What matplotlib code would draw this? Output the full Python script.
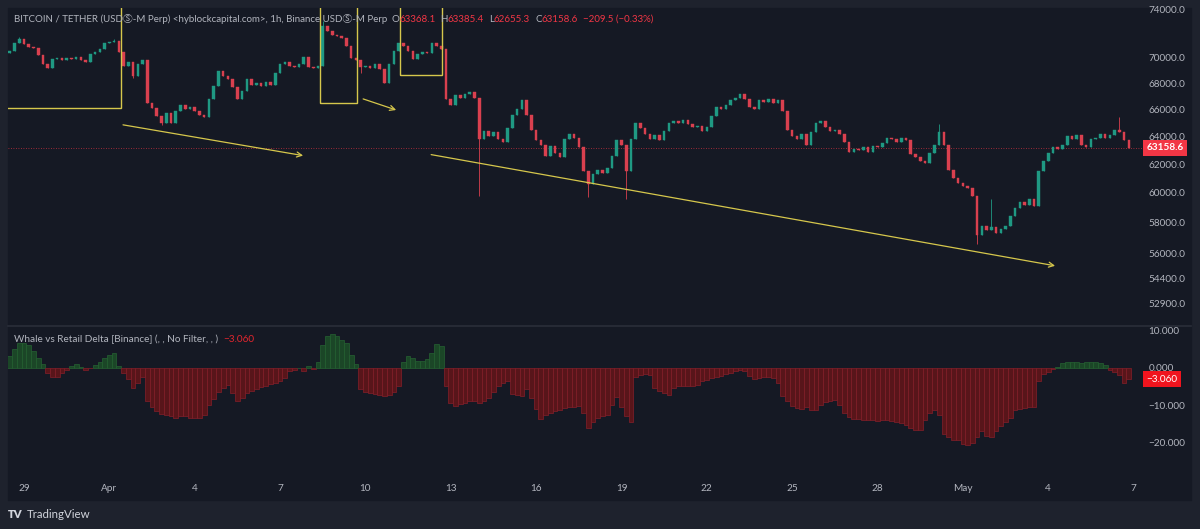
import datetime as dt
import matplotlib
matplotlib.use("Agg")
import matplotlib.pyplot as plt
import matplotlib.dates as mdates
import matplotlib.transforms as mtrans
from matplotlib.patches import Rectangle
from matplotlib.lines import Line2D
from matplotlib.ticker import NullLocator

plt.rcParams['font.family'] = ['Lato', 'DejaVu Sans', 'Noto Sans CJK JP']

W, H = 1200, 529

# 4h candles starting 28 Mar 12:00
start = dt.datetime(2024, 3, 28, 12)
step = dt.timedelta(hours=4)

closes = [
    70600, 71200, 71500, 71100, 70900, 70800, 70200, 69500, 69200, 69900,
    70000, 69800, 70000, 69900, 70100, 69800, 69700, 70300, 70500, 70700,
    71200, 71300, 71400, 70500, 69400, 69700, 68600, 69500, 69800, 66500,
    66100, 65500, 65000, 65700, 65000, 65900, 66300, 66000, 66200, 65900,
    65600, 65400, 66800, 67800, 69000, 68600, 68300, 67700, 66800, 67400,
    68300, 67900, 68000, 67800, 68100, 67900, 68800, 69500, 69700, 69400,
    69300, 69500, 70100, 69300, 69200, 69400, 72600, 72200, 71900, 71800,
    71600, 71000, 70000, 69800, 69300, 69400, 69200, 69500, 69100, 68000,
    69500, 70600, 71200, 71000, 70600, 69900, 70300, 70500, 70400, 71200,
    71000, 70700, 66800, 66300, 67100, 66900, 67200, 67300, 66900, 63800,
    64400, 64000, 64300, 63800, 63600, 64600, 65600, 66000, 66700, 65600,
    64500, 63700, 63400, 62600, 63300, 62800, 62500, 63800, 64200, 63900,
    63200, 61500, 60600, 61300, 61600, 61400, 61700, 62600, 63700, 63400,
    61500, 63800, 65000, 64600, 64200, 63800, 64100, 63700, 64400, 65000,
    65100, 65000, 65200, 64900, 64700, 64800, 64400, 64700, 65500, 66200,
    66000, 66300, 66700, 66900, 67200, 66800, 66200, 66000, 66700, 66600,
    66800, 66500, 66700, 65900, 64500, 64000, 63800, 64200, 63400, 64300,
    65000, 65100, 64700, 64400, 64500, 64200, 63600, 62900, 63100, 63000,
    63200, 62900, 63300, 63200, 63500, 63900, 63800, 63600, 63900, 63700,
    62700, 62500, 62200, 62100, 62800, 63400, 64300, 63400, 61600, 61000,
    60700, 60500, 60300, 59800, 57200, 57800, 57500, 57700, 57300, 57600,
    57800, 58400, 59000, 59400, 59200, 59600, 59100, 61500, 62200, 62800,
    63200, 63100, 63400, 64000, 63800, 64100, 63400, 63200, 63800, 63900,
    64200, 63900, 64100, 64500, 64300, 63700, 63158.6,
]
first_open = 70400

# long wicks that stick out of the bodies
spike_idx = [2, 22, 26, 32, 66, 74, 99, 122, 130, 196, 204, 207, 234]
spike_low = [None, None, 68400, 64850, None, 68800, 59800, 59700, 59580, None, 56600, None, None]
spike_high = [71700, 71500, None, None, 73000, None, None, None, None, 64900, None, 59600, 65450]

delta = [
    3, 5, 6.5, 6.7, 6, 4.5, 2.5, 1, -1.5, -2.6,
    -2.4, -1.5, -0.6, 0.4, 1, 0.3, -0.5, -0.2, 0.6, 1.5,
    2.5, 3.4, 4, 0.5, -1.3, -3, -5.3, -4, -2.5, -9,
    -10.5, -11.5, -12.3, -12.5, -13, -13.3, -12.8, -13, -13.3, -13.5,
    -13.3, -12.5, -10, -8.4, -6.5, -5.5, -4.6, -6.7, -8.9, -8,
    -6.7, -6.2, -5.8, -5.2, -4.8, -4.4, -4, -3.5, -2.8, -1,
    -0.5, 0, -1, 0.5, -0.3, 1.5, 6, 8.4, 8.9, 8.5,
    7.5, 6.7, 3.5, 1, -5.8, -6.5, -6.8, -7, -7.2, -7.6,
    -7.4, -6.5, -4.9, 1.5, 3.1, 2.5, 1.8, 1.9, 2.2, 4,
    6.2, 5.8, -5, -9.3, -10.2, -9.8, -9.5, -8.8, -9, -9.3,
    -8.8, -8, -6.5, -4.9, -4.2, -3.6, -7.1, -7.4, -7.6, -5.8,
    -8, -11, -13.8, -12.5, -12, -11.6, -11.2, -10.8, -10.5, -10.4,
    -10.2, -12, -16, -14.5, -13.5, -13, -12.5, -10, -7.8, -10.5,
    -13, -14.5, -2.5, -2, -1.8, -2, -5.5, -6.3, -6.8, -7.2,
    -5.5, -5, -4.8, -5, -4.8, -4.6, -3.5, -3.2, -2.8, -2.5,
    -2.2, -1.8, -1.5, -0.9, -0.6, -0.8, -2.2, -3, -2.8, -2.6,
    -2.5, -2.8, -4, -7.5, -9, -10.2, -10.8, -10.9, -10.6, -11.2,
    -11.3, -10, -9.2, -8.8, -8.7, -10, -12, -13.2, -13.6, -13.8,
    -14, -13.9, -14, -14.1, -13.9, -14, -14.2, -14.4, -14.8, -15.4,
    -16, -16.5, -16.7, -14, -12.2, -11.3, -12.5, -17.6, -18.5, -19.2,
    -19.4, -20.3, -20.7, -20, -18.5, -17, -18.2, -18.5, -17, -15.5,
    -14.5, -13.5, -11.3, -11, -10.8, -10.6, -10.4, -3.5, -1.8, -1.2,
    -0.4, 0.3, 1.3, 1.5, 1.4, 1.6, 1.3, 1.5, 1.4, 1.5,
    1.2, 0.8, -0.6, -1.2, -2, -4, -3.06,
]

price_ticks = [52900, 54400, 56000, 58000, 60000, 62000, 64000, 66000, 68000, 70000, 74000]
delta_ticks = [10, 0, -10, -20]
date_ticks = [dt.datetime(2024, 3, 29) + dt.timedelta(days=3 * k) for k in range(14)]
date_labels = ['29', 'Apr', '4', '7', '10', '13', '16', '19', '22', '25', '28', 'May', '4', '7']

BG = '#151924'
FRAME = '#1e222d'
TXT = '#b2b5be'
UP = '#1f9983'
DOWN = '#d9404f'
YEL = '#d6c74c'


def frac(x0, y0, x1, y1):
    return [x0 / W, 1 - y1 / H, (x1 - x0) / W, (y1 - y0) / H]


times = [start + k * step for k in range(len(closes))]
xs = mdates.date2num(times)
opens = [first_open] + closes[:-1]
lows = [min(o, c) for o, c in zip(opens, closes)]
highs = [max(o, c) for o, c in zip(opens, closes)]
for k, lo, hi in zip(spike_idx, spike_low, spike_high):
    if lo is not None:
        lows[k] = lo
    if hi is not None:
        highs[k] = hi

d0 = mdates.date2num(dt.datetime(2024, 3, 29))
xlim = (d0 - 0.5624, d0 + 39.33)

fig = plt.figure(figsize=(W / 100, H / 100), dpi=100, facecolor=FRAME)
fig.patches.append(Rectangle((8 / W, 1 - 500 / H), 1183 / W, 492 / H,
                             transform=fig.transFigure, color=BG, zorder=-10))

# ---- price pane
ax = fig.add_axes(frac(8, 8, 1143, 325))
ax.set_facecolor(BG)
ax.set_yscale('log')
ax.set_xlim(*xlim)
ax.set_ylim(51588, 74116)

cols = [UP if c >= o else DOWN for o, c in zip(opens, closes)]
ax.vlines(xs, lows, highs, colors=cols, lw=0.6, zorder=3)
bottoms = [min(o, c) for o, c in zip(opens, closes)]
heights = [max(abs(c - o), 25) for o, c in zip(opens, closes)]
ax.bar(xs, heights, bottom=bottoms, width=0.09, color=cols, edgecolor=cols, lw=0.3, zorder=4)

last = closes[-1]
ax.axhline(last, color='#f23645', lw=0.6, ls=(0, (1, 2)), alpha=0.8, zorder=2)

ax.set_yticks(price_ticks)
ax.set_yticklabels([f'{v:.1f}' for v in price_ticks])
ax.yaxis.set_minor_locator(NullLocator())
ax.yaxis.tick_right()
ax.tick_params(axis='y', length=0, pad=4, labelsize=7.2, labelcolor=TXT)
ax.set_xticks([])
for s in ax.spines.values():
    s.set_visible(False)

trans = mtrans.blended_transform_factory(ax.transAxes, ax.transData)
ax.text(1.003, last, f'{last:.1f}', transform=trans, ha='left', va='center',
        color='white', fontsize=7.2, fontweight='bold', clip_on=False, zorder=10,
        bbox=dict(boxstyle='square,pad=0.35', fc='#f23645', ec='none'))


# drawn boxes (days after 29 Mar) and arrows
def day(v):
    return d0 + v


boxes = [(-1.0, 3.41, 66090), (10.40, 11.72, 66470), (13.23, 14.69, 68650)]
for a, b, bot in boxes:
    ax.add_patch(Rectangle((day(a), bot), b - a, 80000 - bot, fill=False,
                           ec=YEL, lw=1.0, zorder=6))

arrows = [((3.48, 64850), (9.81, 62610)),
          ((11.92, 66800), (13.08, 65960)),
          ((14.31, 62680), (36.24, 55200))]
for (t0, p0), (t1, p1) in arrows:
    ax.annotate('', xy=(day(t1), p1), xytext=(day(t0), p0),
                arrowprops=dict(arrowstyle='->', color=YEL, lw=0.9, mutation_scale=9,
                                shrinkA=0, shrinkB=0), zorder=6)

# ---- indicator pane
ax2 = fig.add_axes(frac(8, 326, 1143, 476))
ax2.set_facecolor(BG)
ax2.set_xlim(*xlim)
ax2.set_ylim(-28.88, 11.12)
fc = ['#1b4627' if v >= 0 else '#58151a' for v in delta]
ec = ['#256232' if v >= 0 else '#85202a' for v in delta]
ax2.bar(xs, delta, width=1 / 6, color=fc, edgecolor=ec, lw=0.5, zorder=3)
ax2.set_yticks(delta_ticks)
ax2.set_yticklabels([f'{v:.3f}'.replace('-', '\u2212') for v in delta_ticks])
ax2.yaxis.tick_right()
ax2.tick_params(axis='y', length=0, pad=4, labelsize=7.2, labelcolor=TXT)
ax2.set_xticks(mdates.date2num(date_ticks))
ax2.set_xticklabels(date_labels)
ax2.tick_params(axis='x', length=0, pad=6, labelsize=7.2, labelcolor=TXT)
for s in ax2.spines.values():
    s.set_visible(False)

trans2 = mtrans.blended_transform_factory(ax2.transAxes, ax2.transData)
ax2.text(1.003, delta[-1], '\u22123.060', transform=trans2, ha='left', va='center',
         color='white', fontsize=7.2, clip_on=False, zorder=10,
         bbox=dict(boxstyle='square,pad=0.35', fc='#f0141e', ec='none'))

fig.add_artist(Line2D([8 / W, 1191 / W], [1 - 325.5 / H] * 2, color='#2a2e39', lw=1.2))

# ---- header texts, chained left to right
renderer = fig.canvas.get_renderer()


def chain(x, y, parts, size=7.2):
    for s, c, gap in parts:
        t = fig.text(x / W, 1 - y / H, s, color=c, fontsize=size, va='center', ha='left')
        bb = t.get_window_extent(renderer)
        x = bb.x1 + gap


chain(14, 19, [('BITCOIN / TETHER (USD\u24c8-M Perp) <hyblockcapital.com>, 1h, Binance USD\u24c8-M Perp', TXT, 4),
               ('O', TXT, 0), ('63368.1', '#f23645', 5),
               ('H', TXT, 0), ('63385.4', '#f23645', 5),
               ('L', TXT, 0), ('62655.3', '#f23645', 5),
               ('C', TXT, 0), ('63158.6', '#f23645', 5),
               ('\u2212209.5 (\u22120.33%)', '#f23645', 0)], size=7.0)
chain(14, 339, [('Whale vs Retail Delta [Binance] (, , No Filter, , )', TXT, 5),
                ('\u22123.060', '#e3262e', 0)])

fig.text(8 / W, 1 - 514 / H, 'TV', color='#d1d4dc', fontsize=8, fontweight='heavy',
         va='center', ha='left')
fig.text(27 / W, 1 - 514 / H, 'TradingView', color='#d1d4dc', fontsize=8.3,
         va='center', ha='left')

fig.savefig('out.png', dpi=100, facecolor=FRAME)
